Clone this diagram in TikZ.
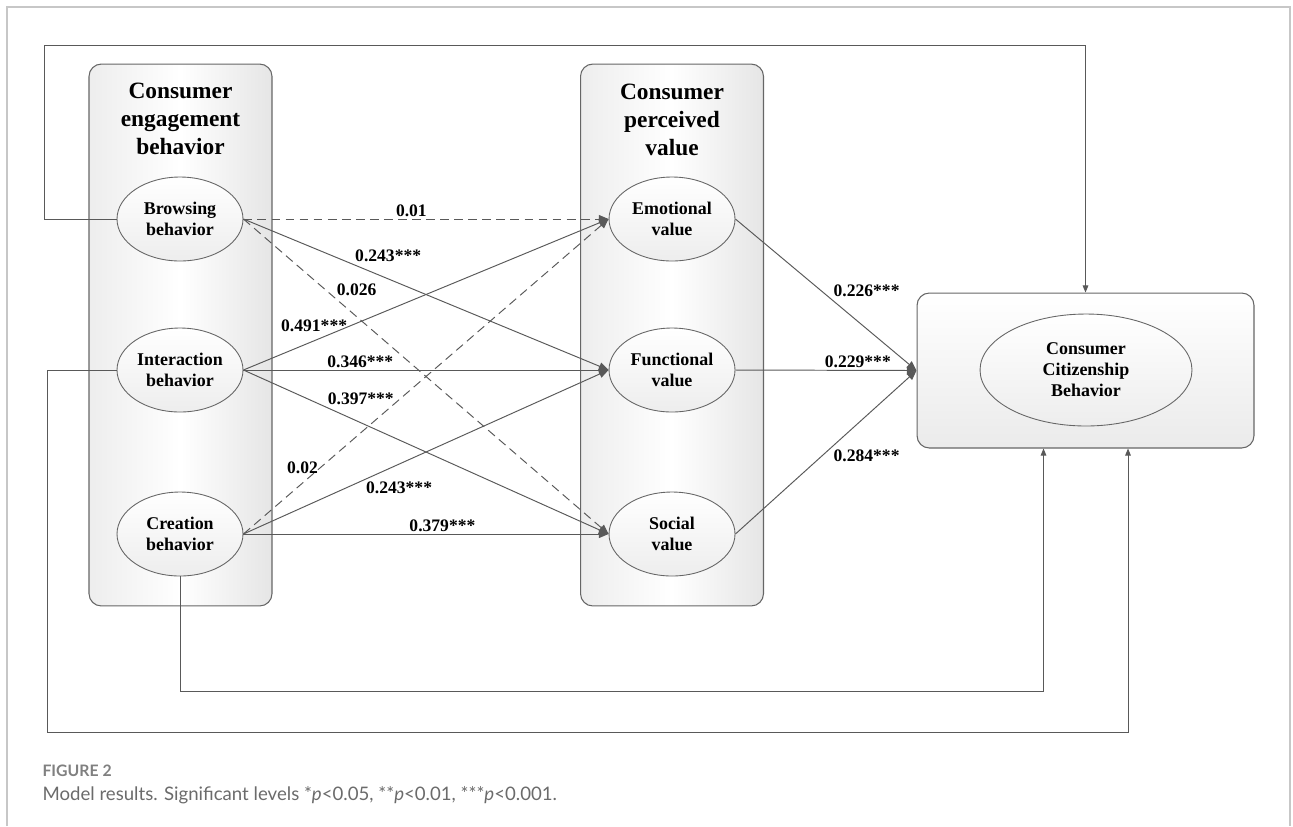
\documentclass[tikz,border=0pt]{standalone}
\usepackage{fontspec}
\setmainfont{Liberation Serif}
\newfontfamily\capfont{Lato}
\usepackage{tikz}
\usetikzlibrary{arrows.meta,shapes.geometric,calc}
\tikzset{
  grp/.style   ={rectangle,draw=black!60,line width=0.6pt,rounded corners=7pt,
                 minimum width=3.66cm,minimum height=10.84cm,
                 left color=black!7,right color=black!10,middle color=white},
  outbox/.style={rectangle,draw=black!60,line width=0.6pt,rounded corners=7pt,
                 minimum width=6.74cm,minimum height=3.1cm,
                 top color=white,bottom color=black!8},
  ttl/.style   ={align=center,font=\fontsize{13.3}{15.9}\selectfont\bfseries},
  lat/.style   ={ellipse,draw=black!60,line width=0.5pt,minimum width=2.52cm,
                 minimum height=1.68cm,inner sep=0pt,align=center,
                 top color=white,bottom color=black!7,
                 font=\fontsize{10.2}{11.9}\selectfont\bfseries},
  lnk/.style   ={->,draw=black!65,line width=0.55pt},
  lnkns/.style ={lnk,dash pattern=on 5pt off 3pt},
  fb/.style    ={lnk,>={Triangle[length=4pt,width=3.2pt]}},
  coef/.style  ={font=\fontsize{10}{12}\selectfont\bfseries,inner sep=1pt},
}

\begin{document}
\begin{tikzpicture}[
    x=0.02cm, y=-0.02cm,
    >={Triangle[length=5.5pt,width=4.5pt]}, % arrow head style
    semithick
]
\useasboundingbox (0,0) rectangle (1293,826);

% Frame
\draw[black!22,line width=1.2pt] (7,826) -- (7,7) -- (1290,7) -- (1290,826);

% Group boxes
\node[grp] (engBox) at (180.5,335) {};
\node[grp] (valBox) at (672,335) {};
\node[outbox] (ccbBox) at (1085.5,370.5) {};

\node[ttl] (engTtl) at (180.5,119) {Consumer\\engagement\\behavior};
\node[ttl] (valTtl) at (672,120) {Consumer\\perceived\\value};

% Nodes
\node[lat] (brow)  at (180,219) {Browsing\\behavior};
\node[lat] (inter) at (180,370) {Interaction\\behavior};
\node[lat] (crea)  at (180,534) {Creation\\behavior};
\node[lat] (emo)   at (672,219) {Emotional\\value};
\node[lat] (func)  at (672,370) {Functional\\value};
\node[lat] (soc)   at (672,534) {Social\\value};
\node[lat,minimum width=4.24cm,minimum height=2.24cm] (ccb) at (1086,370)
     {Consumer\\Citizenship\\Behavior};

% Edges, labelled by path coefficient
\draw[lnkns] (brow.east) -- node[coef,above,pos=0.46] {0.01} (emo.west);
\draw[lnk] (brow.east) -- node[coef,anchor=south west,pos=0.30] {0.243***} (func.west);
\draw[lnkns] (brow.east) -- node[coef,anchor=south west,pos=0.25] {0.026} (soc.west);
\draw[lnk] (inter.east) -- node[coef,anchor=east,pos=0.29] {0.491***} (emo.west);
\draw[lnk] (inter.east) -- node[coef,above,pos=0.32] {0.346***} (func.west);
\draw[lnk] (inter.east) -- node[coef,anchor=south west,pos=0.225] {0.397***} (soc.west);
\draw[lnkns] (crea.east) -- node[coef,anchor=east,pos=0.21] {0.02} (emo.west);
\draw[lnk] (crea.east) -- node[coef,anchor=north west,pos=0.33] {0.243***} (func.west);
\draw[lnk] (crea.east) -- node[coef,above,pos=0.545] {0.379***} (soc.west);
\draw[lnk] (emo.east) -- node[coef,anchor=south west,pos=0.53] {0.226***} (ccbBox.west);
\draw[lnk] (func.east) -- node[coef,above,pos=0.676] {0.229***} (ccbBox.west);
\draw[lnk] (soc.east) -- node[coef,anchor=north west,pos=0.53] {0.284***} (ccbBox.west);

% Direct paths to citizenship behavior
\coordinate (loopT) at (44,45);
\coordinate (loopB) at (47,732);
\coordinate (inA) at ($(ccbBox.south)+(-42,0)$);
\coordinate (inB) at ($(ccbBox.south)+(42.5,0)$);
\draw[fb] (brow.west) -| (loopT) -| (ccbBox.north);
\draw[fb] (crea.south) -- ++(0,115) -| (inA);
\draw[fb] (inter.west) -| (loopB) -| (inB);

% Caption
\node[anchor=west,inner sep=0pt,text=black!50,
      font=\capfont\fontsize{9}{10}\selectfont\bfseries] (figNo) at (42,771) {FIGURE 2};
\node[anchor=west,inner sep=0pt,text=black!58,
      font=\capfont\fontsize{10.6}{12}\selectfont] (figCap) at (42,795)
     {Model results. Significant levels *\textit{p}<0.05, **\textit{p}<0.01, ***\textit{p}<0.001.};

\end{tikzpicture}
\end{document}
